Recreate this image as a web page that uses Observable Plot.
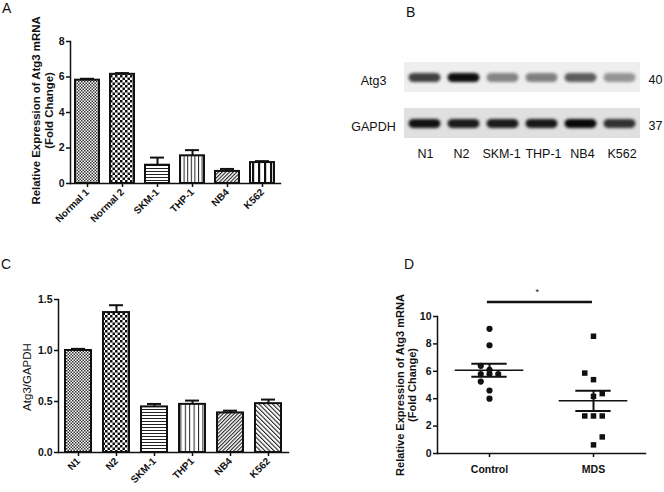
<!DOCTYPE html>
<html><head><meta charset="utf-8">
<script src="https://cdn.jsdelivr.net/npm/d3@7"></script>
<script src="https://cdn.jsdelivr.net/npm/@observablehq/plot@0.6"></script>
<style>
body{margin:0;background:#fff;}
#fig{position:relative;width:664px;height:492px;font-family:"Liberation Sans",Arial,sans-serif;overflow:hidden;}
.panel{position:absolute;}
.panel svg{overflow:visible;}
.letter{position:absolute;font-size:14px;color:#111;font-family:"Liberation Sans",Arial,sans-serif;}
</style></head><body>
<svg width="0" height="0" style="position:absolute">
<defs>
<pattern id="pFine" width="3" height="3" patternUnits="userSpaceOnUse"><rect width="3" height="3" fill="#fff"/><rect width="1.5" height="1.5" fill="#333"/><rect x="1.5" y="1.5" width="1.5" height="1.5" fill="#333"/></pattern>
<pattern id="pCheck" width="5" height="5" patternUnits="userSpaceOnUse"><rect width="5" height="5" fill="#fff"/><rect width="2.5" height="2.5" fill="#111"/><rect x="2.5" y="2.5" width="2.5" height="2.5" fill="#111"/></pattern>
<pattern id="pHoriz" width="4" height="3" patternUnits="userSpaceOnUse"><rect width="4" height="3" fill="#fff"/><rect width="4" height="1" fill="#222"/></pattern>
<pattern id="pVert" width="3.6" height="4" patternUnits="userSpaceOnUse"><rect width="3.6" height="4" fill="#fff"/><rect width="1" height="4" fill="#222"/></pattern>
<pattern id="pVert2" width="4.4" height="4" patternUnits="userSpaceOnUse"><rect width="4.4" height="4" fill="#fff"/><rect width="1" height="4" fill="#222"/></pattern>
<pattern id="pDiag" width="2.6" height="3" patternUnits="userSpaceOnUse" patternTransform="rotate(45)"><rect width="2.6" height="3" fill="#fff"/><rect width="1.1" height="3" fill="#222"/></pattern>
<pattern id="pDiagB" width="3.2" height="3" patternUnits="userSpaceOnUse" patternTransform="rotate(-45)"><rect width="3.2" height="3" fill="#fff"/><rect width="1.1" height="3" fill="#222"/></pattern>
<pattern id="pVthick" width="6" height="4" patternUnits="userSpaceOnUse"><rect width="6" height="4" fill="#fff"/><rect width="2.2" height="4" fill="#111"/></pattern>
</defs>
</svg>
<div id="fig"></div>
<script>
// ---------- Data ----------
// Panel A: qPCR, cell lines
const cellLinesA = ["Normal 1", "Normal 2", "SKM-1", "THP-1", "NB4", "K562"];
const valuesA = [5.82, 6.15, 1.03, 1.56, 0.68, 1.18];
const errorsA = [0.08, 0.07, 0.43, 0.32, 0.14, 0.08];
const yTicksA = [0, 2, 4, 6, 8];

// Panel B: western blot
const lanesB = ["N1", "N2", "SKM-1", "THP-1", "NB4", "K562"];
const proteinsB = ["Atg3", "GAPDH"];
const kDaB = ["40", "37"];
const bandAtg3 = [0.75, 0.97, 0.45, 0.47, 0.62, 0.38];
const bandGAPDH = [0.95, 0.9, 0.9, 0.92, 0.99, 0.8];

// Panel C: densitometry
const cellLinesC = ["N1", "N2", "SKM-1", "THP1", "NB4", "K562"];
const valuesC = [1.0, 1.372, 0.447, 0.472, 0.388, 0.479];
const errorsC = [0.016, 0.072, 0.029, 0.037, 0.022, 0.04];
const yTicksC = [0, 0.5, 1.0, 1.5];

// Panel D: patients
const groupsD = ["Control", "MDS"];
const controlValues = [9.1, 7.9, 6.4, 6.1, 5.8, 5.8, 5.8, 5.25, 4.6, 4.0];
const controlCols = [0, 0, -1, 0, -1, 0, 1, -1, 0, 0];
const mdsValues = [8.56, 5.87, 5.39, 4.37, 4.17, 2.74, 2.74, 2.74, 1.21, 0.63];
const mdsCols = [0, -1, 0, 1, 0, -1, 0, 1, 1, 0];
const yTicksD = [0, 2, 4, 6, 8, 10];

// ---------- Styles ----------
const fillA = {"Normal 1":"url(#pFine)","Normal 2":"url(#pCheck)","SKM-1":"url(#pHoriz)","THP-1":"url(#pVert)","NB4":"url(#pDiag)","K562":"url(#pVthick)"};
const fillC = {"N1":"url(#pFine)","N2":"url(#pCheck)","SKM-1":"url(#pHoriz)","THP1":"url(#pVert2)","NB4":"url(#pDiag)","K562":"url(#pDiagB)"};
const FONT = '"Liberation Sans", Arial, sans-serif';

const fig = document.getElementById("fig");
function place(el, left, top) {
  const d = document.createElement("div");
  d.className = "panel"; d.style.left = left + "px"; d.style.top = top + "px";
  d.appendChild(el); fig.appendChild(d);
}
function letter(t, left, top) {
  const d = document.createElement("div");
  d.className = "letter"; d.textContent = t; d.style.left = left + "px"; d.style.top = top + "px";
  fig.appendChild(d);
}

// ---------- Panel A ----------
const dataA = cellLinesA.map((c, i) => ({cell: c, value: valuesA[i], err: errorsA[i]}));
const plotA = Plot.plot({
  width: 330, height: 250, marginLeft: 70, marginRight: 50, marginTop: 41, marginBottom: 67,
  style: {fontFamily: FONT, fontSize: "10px", fontWeight: "bold", color: "#111", background: "transparent"},
  x: {domain: cellLinesA, paddingInner: 0.31, paddingOuter: 0.155, label: null},
  y: {domain: [0, 8], label: null},
  color: {type: "identity"},
  marks: [
    Plot.ruleX(dataA, {x: "cell", y1: "value", y2: d => d.value + d.err, strokeWidth: 2, stroke: "#111"}),
    Plot.tickY(dataA, {x: "cell", y: d => d.value + d.err, strokeWidth: 2, stroke: "#111", insetLeft: 5, insetRight: 5}),
    Plot.barY(dataA, {x: "cell", y: "value", fill: d => fillA[d.cell], stroke: "#111", strokeWidth: 2}),
    Plot.axisY({ticks: yTicksA, tickFormat: d3.format("d"), tickSize: 4, tickPadding: 2, strokeWidth: 1.5, fontSize: 10.5}),
    Plot.axisX({tickSize: 4, tickPadding: 3, tickRotate: -45, strokeWidth: 1.5, fontSize: 10}),
    Plot.frame({anchor: "left", strokeWidth: 1.5, stroke: "#111"}),
    Plot.frame({anchor: "bottom", strokeWidth: 1.5, stroke: "#111"}),
    Plot.text(["Relative Expression of Atg3 mRNA\n(Fold Change)"], {frameAnchor: "left", dx: -28.5, dy: -2, rotate: -90, fontSize: 11.4, fontWeight: "bold", lineHeight: 1.15, textAnchor: "middle"})
  ]
});
place(plotA, 0, 0);

// ---------- Panel B ----------
const bgB = {"Atg3": "#eeeeee", "GAPDH": "#e0e0e0"};
const bandsB = [
  ...lanesB.map((l, i) => ({lane: l, protein: "Atg3", intensity: bandAtg3[i]})),
  ...lanesB.map((l, i) => ({lane: l, protein: "GAPDH", intensity: bandGAPDH[i]}))
];
const plotB = Plot.plot({
  width: 332, height: 250, marginLeft: 72, marginRight: 24, marginTop: 62, marginBottom: 112,
  style: {fontFamily: FONT, fontSize: "12.5px", color: "#111", background: "transparent"},
  x: {domain: lanesB, padding: 0, label: null},
  y: {domain: proteinsB, paddingInner: 0.35, paddingOuter: 0, label: null, axis: null},
  color: {type: "identity"},
  opacity: {type: "identity"},
  marks: [
    Plot.cell(proteinsB, {y: d => d, fill: d => bgB[d]}),
    Plot.cell(bandsB, {x: "lane", y: "protein", fill: "#050505", fillOpacity: "intensity", insetLeft: 3.5, insetRight: 3.5, insetTop: 11, insetBottom: 10, rx: 5}),
    Plot.axisX({tickSize: 0, tickPadding: 11, fontSize: 12.5}),
    Plot.text(proteinsB, {y: d => d, frameAnchor: "left", dx: -31, dy: 3, textAnchor: "middle", fontSize: 12.5}),
    Plot.text(kDaB, {y: (d, i) => proteinsB[i], frameAnchor: "right", dx: 8, dy: 2.5, textAnchor: "start", fontSize: 12.5})
  ]
});
d3.select(plotB).selectAll('g[aria-label="cell"]').filter((d, i) => i === 1).style("filter", "blur(1.8px)");
d3.select(plotB).selectAll('g[aria-label="x-axis tick label"] text').attr("dx", (d, i, n) => [0.5, -2.5, -1.5, 1.5, 1.5, 2][i] + "px");
place(plotB, 332, 0);

// ---------- Panel C ----------
const dataC = cellLinesC.map((c, i) => ({cell: c, value: valuesC[i], err: errorsC[i]}));
const plotC = Plot.plot({
  width: 330, height: 242, marginLeft: 58, marginRight: 42, marginTop: 49, marginBottom: 40,
  style: {fontFamily: FONT, fontSize: "10px", fontWeight: "bold", color: "#111", background: "transparent"},
  x: {domain: cellLinesC, paddingInner: 0.31, paddingOuter: 0.155, label: null},
  y: {domain: [0, 1.5], label: null},
  color: {type: "identity"},
  marks: [
    Plot.ruleX(dataC, {x: "cell", y1: "value", y2: d => d.value + d.err, strokeWidth: 2, stroke: "#111"}),
    Plot.tickY(dataC, {x: "cell", y: d => d.value + d.err, strokeWidth: 2, stroke: "#111", insetLeft: 6, insetRight: 6}),
    Plot.barY(dataC, {x: "cell", y: "value", fill: d => fillC[d.cell], stroke: "#111", strokeWidth: 2}),
    Plot.axisY({ticks: yTicksC, tickFormat: d3.format(".1f"), tickSize: 4, tickPadding: 2, strokeWidth: 1.5, fontSize: 10.5}),
    Plot.axisX({tickSize: 4, tickPadding: 3, tickRotate: -45, strokeWidth: 1.5, fontSize: 10}),
    Plot.frame({anchor: "left", strokeWidth: 1.5, stroke: "#111"}),
    Plot.frame({anchor: "bottom", strokeWidth: 1.5, stroke: "#111"}),
    Plot.text(["Atg3/GAPDH"], {frameAnchor: "left", dx: -31, dy: 1, rotate: -90, fontSize: 11.5, fontWeight: "normal", textAnchor: "middle"})
  ]
});
place(plotC, 0, 250);

// ---------- Panel D ----------
const spread = 0.084;
const pointsD = [
  ...controlValues.map((v, i) => ({g: 1, v, col: controlCols[i]})),
  ...mdsValues.map((v, i) => ({g: 2, v, col: mdsCols[i]}))
];
const statsD = [controlValues, mdsValues].map((arr, i) => {
  const m = d3.mean(arr), s = d3.deviation(arr) / Math.sqrt(arr.length);
  return {g: i + 1, mean: m, lo: m - s, hi: m + s};
});
const plotD = Plot.plot({
  width: 332, height: 242, marginLeft: 105, marginRight: 19, marginTop: 66, marginBottom: 39,
  style: {fontFamily: FONT, fontSize: "10px", fontWeight: "bold", color: "#111", background: "transparent"},
  x: {domain: [0.5, 2.5], label: null},
  y: {domain: [0, 10], label: null},
  marks: [
    Plot.dot(pointsD.filter(d => d.g === 1), {x: d => d.g + d.col * spread, y: "v", r: 3.1, fill: "#111", symbol: "circle"}),
    Plot.dot(pointsD.filter(d => d.g === 2), {x: d => d.g + d.col * spread, y: "v", r: 3.1, fill: "#111", symbol: "square"}),
    Plot.ruleY(statsD, {y: "mean", x1: d => d.g - 0.33, x2: d => d.g + 0.33, strokeWidth: 1.5, stroke: "#111"}),
    Plot.ruleY(statsD, {y: "hi", x1: d => d.g - 0.17, x2: d => d.g + 0.17, strokeWidth: 2, stroke: "#111"}),
    Plot.ruleY(statsD, {y: "lo", x1: d => d.g - 0.17, x2: d => d.g + 0.17, strokeWidth: 2, stroke: "#111"}),
    Plot.ruleX(statsD, {x: "g", y1: "lo", y2: "hi", strokeWidth: 2, stroke: "#111"}),
    Plot.ruleY([11.05], {x1: 0.98, x2: 1.99, strokeWidth: 2.5, stroke: "#111"}),
    Plot.text(["*"], {x: 1.46, y: 11.75, fontSize: 9, fontWeight: "normal"}),
    Plot.axisY({ticks: yTicksD, tickFormat: d3.format("d"), tickSize: 4, tickPadding: 2, strokeWidth: 1.5, fontSize: 10.5}),
    Plot.axisX({ticks: [1, 2], tickFormat: d => groupsD[d - 1], tickSize: 4, tickPadding: 8, strokeWidth: 1.5, fontSize: 10.5}),
    Plot.frame({anchor: "left", strokeWidth: 1.5, stroke: "#111"}),
    Plot.frame({anchor: "bottom", strokeWidth: 1.5, stroke: "#111"}),
    Plot.text(["Relative Expression of Atg3 mRNA\n(Fold Change)"], {frameAnchor: "left", dx: -31, dy: 0, rotate: -90, fontSize: 11, fontWeight: "bold", lineHeight: 1.08, textAnchor: "middle"})
  ]
});
place(plotD, 332, 250);

// ---------- Panel letters ----------
letter("A", 2, 0);
letter("B", 406, 4);
letter("C", 1, 256);
letter("D", 404, 256);
</script>
</body></html>
